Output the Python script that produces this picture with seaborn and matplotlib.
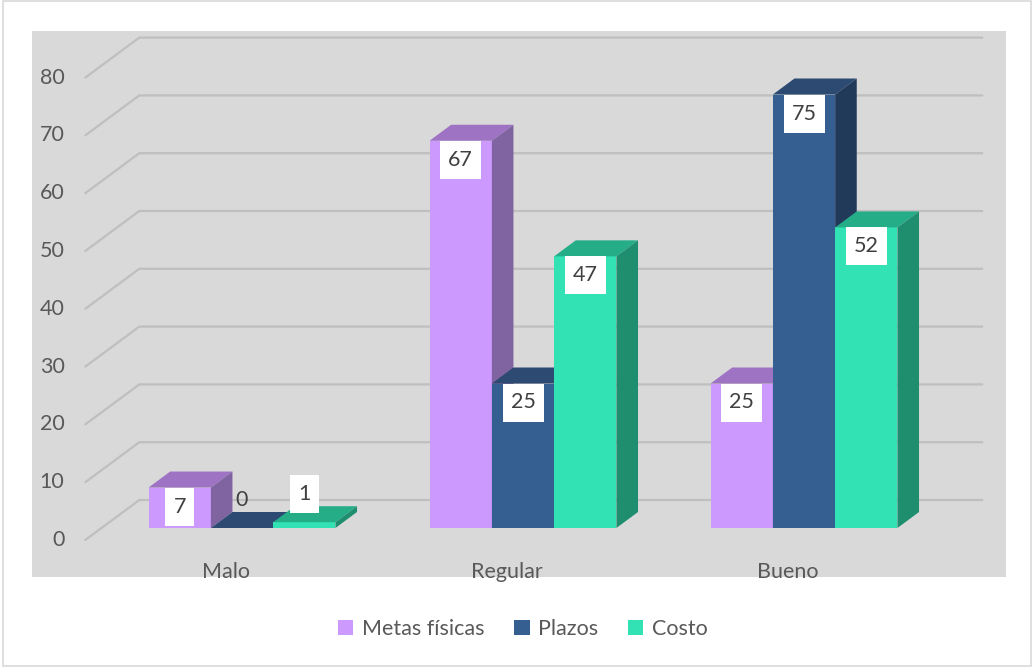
import matplotlib
matplotlib.use("Agg")
import matplotlib.pyplot as plt
import matplotlib.transforms as mtransforms
from matplotlib.patches import Polygon, Rectangle, Patch
from matplotlib.lines import Line2D
import pandas as pd
import seaborn as sns

# Chart data
categorias = ["Malo", "Regular", "Bueno"]
series = ["Metas físicas", "Plazos", "Costo"]
metas_fisicas = [7, 67, 25]
plazos = [0, 25, 75]
costo = [1, 47, 52]
y_ticks = [0, 10, 20, 30, 40, 50, 60, 70, 80]

# Face colours: front, top, side
front = ["#CC99FF", "#365F91", "#33E2B4"]
top = ["#9E73C4", "#2C4A72", "#25AD88"]
side = ["#8064A2", "#223A5A", "#1F8E6F"]

sns.set_theme(style="white")
plt.rcParams["font.family"] = ["Lato", "DejaVu Sans"]

TXT = "#595959"
FS = 15.5

df = pd.DataFrame({
    "Calificación": categorias * 3,
    "Serie": [s for s in series for _ in categorias],
    "Valor": metas_fisicas + plazos + costo,
})

W, H = 1033, 667
fig = plt.figure(figsize=(W / 100, H / 100), dpi=100)
fig.patch.set_facecolor("white")

# outer chart border and plot-area background
fig.add_artist(Rectangle((3 / W, 1 - 666 / H), 1028 / W, 665 / H,
                         transform=fig.transFigure, fc="none",
                         ec="#D9D9D9", lw=1.2, zorder=-2))
fig.add_artist(Rectangle((32 / W, 1 - 577 / H), (1006 - 32) / W, (577 - 31) / H,
                         transform=fig.transFigure, fc="#D9D9D9",
                         ec="none", zorder=-1))

ax = fig.add_axes([101.5 / W, (H - 528) / H, 843 / W, 462.4 / H])
sns.barplot(data=df, x="Calificación", y="Valor", hue="Serie",
            palette=front, saturation=1, width=0.665, ax=ax,
            legend=False, edgecolor="none")
ax.set_xlim(-0.5, 2.5)
ax.set_ylim(0, 80)
ax.set_axis_off()

ident = mtransforms.IdentityTransform()

# depth vectors in pixels (right, up)
BAR_D = (21.6, 16.0)      # bar front -> bar back
WALL_D = (37.8, 28.0)     # bar front plane -> back wall
FLOOR_D = (-16.2, -12.0)  # bar front plane -> front floor edge


def disp(x, y):
    return ax.transData.transform((x, y))


# gridlines: slanted side-wall part + back-wall part
for v in y_ticks:
    xl, yl = disp(-0.5, v)
    xr, _ = disp(2.5, v)
    pts = [(xl + FLOOR_D[0], yl + FLOOR_D[1]),
           (xl + WALL_D[0], yl + WALL_D[1]),
           (xr + WALL_D[0], yl + WALL_D[1])]
    ax.add_line(Line2D([p[0] for p in pts], [p[1] for p in pts],
                       transform=ident, color="#BFBFBF", lw=1.6,
                       clip_on=False, zorder=1))
    ax.text(-0.5, v, str(v), color=TXT, fontsize=FS, ha="right", va="center",
            transform=mtransforms.offset_copy(ax.transData, fig, x=-37,
                                              y=-12, units="dots"))

# category labels on the front floor edge
for i, c in enumerate(categorias):
    ax.text(i, 0, c, color=TXT, fontsize=FS, ha="center", va="center",
            transform=mtransforms.offset_copy(ax.transData, fig, x=-16,
                                              y=-44, units="dots"))

# extrude each bar: top and right side faces, drawn left to right
bars = list(ax.patches)
values = metas_fisicas + plazos + costo
info = [(p, k // len(categorias), values[k]) for k, p in enumerate(bars)]
info.sort(key=lambda t: t[0].get_x())

dx, dy = BAR_D
for rank, (p, ci, val) in enumerate(info):
    z = 3 + rank * 0.1
    p.set_zorder(z)
    x0 = p.get_x()
    w = p.get_width()
    X0, Y0 = disp(x0, 0)
    X1, Y1 = disp(x0 + w, val)
    topf = Polygon([(X0, Y1), (X1, Y1), (X1 + dx, Y1 + dy), (X0 + dx, Y1 + dy)],
                   closed=True, transform=ident, fc=top[ci], ec="none",
                   clip_on=False, zorder=z)
    sidef = Polygon([(X1, Y0), (X1, Y1), (X1 + dx, Y1 + dy), (X1 + dx, Y0 + dy)],
                    closed=True, transform=ident, fc=side[ci], ec="none",
                    clip_on=False, zorder=z)
    ax.add_patch(topf)
    ax.add_patch(sidef)

    # data label: inside the top end, or above short bars
    Xc = (X0 + X1) / 2
    Yc = Y1 - 19 if val >= 5 else Y1 + 28
    lbl = str(val)
    if val > 0:
        bw, bh = 12 * len(lbl) + 17, 38
        ax.add_patch(Rectangle((Xc - bw / 2, Yc - bh / 2), bw, bh,
                               transform=ident, fc="white", ec="none",
                               clip_on=False, zorder=19))
    ax.text(Xc, Yc, lbl, color="#404040", fontsize=FS, ha="center",
            va="center", transform=ident, zorder=20, clip_on=False)

handles = [Patch(facecolor=front[i], edgecolor="none", label=s)
           for i, s in enumerate(series)]
fig.legend(handles=handles, loc="center", bbox_to_anchor=(523 / W, 1 - 629 / H),
           ncol=3, frameon=False, fontsize=FS, handlelength=0.7,
           handleheight=0.7, handletextpad=0.4, columnspacing=1.4,
           labelcolor=TXT)

fig.savefig("out.png", dpi=100, facecolor="white")
